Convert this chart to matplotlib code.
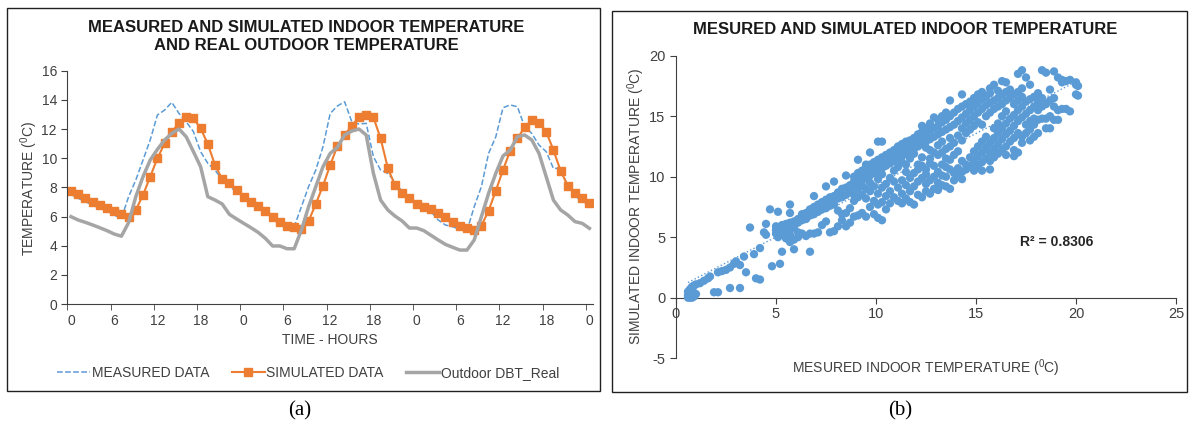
import matplotlib
matplotlib.use("Agg")
import matplotlib.pyplot as plt
import numpy as np
from matplotlib.patches import Rectangle

plt.rcParams['font.family'] = ['Liberation Sans', 'DejaVu Sans']
plt.rcParams['mathtext.fontset'] = 'custom'
plt.rcParams['mathtext.rm'] = 'Liberation Sans'
plt.rcParams['axes.unicode_minus'] = False

# ---- panel (a): hourly values, 3 days ----
hours = list(range(73))
tick_labels = ['0', '6', '12', '18'] * 3 + ['0']

measured = [7.52, 7.25, 7.02, 6.79, 6.56, 6.40, 6.10, 5.87, 7.36, 8.50,
            9.87, 11.25, 12.96, 13.30, 13.83, 13.07, 12.50, 11.82, 10.45, 9.65,
            9.19, 8.50, 8.05, 7.70, 7.36, 7.02, 6.67, 6.33, 5.87, 5.65,
            5.53, 5.30, 6.67, 8.05, 9.19, 10.79, 13.07, 13.58, 13.87, 12.50,
            12.34, 12.39, 10.10, 9.19, 8.96, 8.39, 7.70, 7.25, 6.90, 6.56,
            6.33, 5.76, 5.42, 5.30, 5.12, 5.03, 6.67, 8.05, 10.33, 11.47,
            13.46, 13.65, 13.53, 12.16, 11.70, 10.90, 10.45, 9.30, 9.30, 8.05,
            7.31, 7.13, 6.67]

simulated = [7.77, 7.54, 7.25, 7.02, 6.81, 6.58, 6.35, 6.15, 5.99, 6.45,
             7.47, 8.73, 9.99, 11.02, 11.82, 12.39, 12.85, 12.73, 12.05, 10.97,
             9.53, 8.57, 8.32, 7.82, 7.31, 7.02, 6.74, 6.38, 5.99, 5.60,
             5.37, 5.30, 5.14, 5.69, 6.86, 8.11, 9.53, 10.83, 11.59, 12.23,
             12.80, 12.96, 12.80, 11.36, 9.33, 8.14, 7.59, 7.25, 6.86, 6.63,
             6.51, 6.26, 5.94, 5.60, 5.37, 5.19, 5.07, 5.37, 6.40, 7.77,
             9.19, 10.51, 11.36, 12.11, 12.62, 12.43, 11.82, 10.56, 9.14, 8.11,
             7.63, 7.27, 6.95]

outdoor = [5.99, 5.76, 5.60, 5.42, 5.23, 5.03, 4.80, 4.65, 5.58, 7.36,
           8.73, 9.87, 10.60, 11.25, 11.70, 12.00, 11.47, 10.45, 9.42, 7.36,
           7.13, 6.86, 6.15, 5.83, 5.53, 5.23, 4.91, 4.50, 3.98, 3.98,
           3.79, 3.79, 5.07, 6.67, 8.05, 9.42, 10.33, 10.74, 11.59, 11.86,
           12.00, 11.59, 8.96, 7.13, 6.45, 6.03, 5.69, 5.21, 5.21, 5.03,
           4.71, 4.39, 4.09, 3.89, 3.70, 3.70, 4.39, 5.99, 7.59, 8.96,
           10.15, 10.56, 11.47, 11.59, 11.25, 10.33, 8.73, 7.13, 6.45, 6.10,
           5.65, 5.53, 5.19]

# ---- panel (b): measured (x) column with the simulated values seen above it ----
scatter_rows = [
    (0.6, [0.0, 0.2, 0.5]), (0.7, [0.0, 0.1, 0.4, 0.7]), (0.8, [0.0, 0.3, 0.6, 0.9]),
    (0.9, [0.1, 0.4, 1.0]), (1.0, [0.3, 1.1]), (1.2, [1.2]), (1.4, [1.4]),
    (1.6, [1.6]), (1.7, [1.75]), (1.9, [0.45]), (2.1, [0.45, 2.1]), (2.3, [2.2]),
    (2.5, [2.3]), (2.7, [2.5, 0.8]), (2.9, [2.8]), (3.0, [3.0]), (3.2, [0.8, 2.7]),
    (3.4, [3.4]), (3.5, [2.1]), (3.7, [5.8]), (3.9, [3.6]), (4.0, [1.6]),
    (4.2, [1.5, 4.1]), (4.4, [5.4]), (4.5, [6.1, 5.2]), (4.7, [7.3]), (4.8, [2.6]),
    (5.0, [5.3, 5.6, 5.9]), (5.1, [7.1, 5.0]), (5.2, [2.8, 5.5]),
    (5.3, [3.8, 5.2, 5.8, 6.0]), (5.5, [4.9, 5.4, 5.8, 6.1]),
    (5.7, [7.7, 7.0, 4.6, 5.2, 5.6, 6.2]), (5.9, [4.0, 4.8, 5.8, 6.3]),
    (6.1, [5.0, 5.4, 6.2, 6.5]), (6.3, [5.3, 6.4, 6.7, 6.9]), (6.5, [5.1, 6.5, 6.8, 7.0]),
    (6.7, [3.8, 5.3, 6.8, 7.1, 7.3]), (6.9, [5.3, 6.9, 7.2, 7.5, 8.4]),
    (7.1, [5.4, 7.1, 7.4, 7.7]), (7.3, [6.0, 7.3, 7.6, 7.9]),
    (7.5, [6.3, 7.4, 7.8, 8.1, 9.2]), (7.7, [5.4, 7.6, 8.0, 8.3]),
    (7.9, [5.5, 7.7, 8.1, 8.4, 9.6]), (8.1, [5.9, 7.2, 8.2, 8.5, 8.7]),
    (8.3, [6.4, 6.9, 8.3, 8.6, 8.9, 9.0]), (8.5, [5.9, 7.0, 8.5, 8.8, 9.1, 10.1]),
    (8.7, [6.2, 7.4, 8.7, 9.0, 9.3]), (8.9, [6.7, 8.0, 8.5, 9.2, 9.6, 10.0]),
    (9.1, [6.8, 8.3, 9.0, 9.5, 9.8, 10.3, 11.4]), (9.3, [7.0, 8.5, 9.3, 9.7, 10.1, 10.5]),
    (9.5, [6.7, 8.2, 9.0, 9.9, 10.3, 10.8, 11.0]), (9.7, [7.5, 8.8, 9.5, 10.1, 10.5, 11.0, 12.0]),
    (9.9, [6.9, 8.0, 9.2, 10.3, 10.8, 11.2]),
    (10.1, [6.6, 7.7, 8.6, 9.8, 10.5, 11.0, 11.4, 12.9]),
    (10.3, [6.4, 7.9, 9.1, 10.2, 10.7, 11.2, 11.6, 12.9]),
    (10.5, [7.3, 8.4, 9.4, 10.9, 11.4, 11.8]), (10.7, [7.8, 8.8, 9.9, 11.1, 11.6, 12.0]),
    (10.9, [8.3, 9.6, 10.5, 11.3, 11.8, 12.2]), (11.1, [8.0, 9.1, 10.8, 11.5, 12.0, 12.5]),
    (11.3, [7.8, 8.6, 9.7, 11.2, 11.7, 12.2, 12.7]),
    (11.5, [8.2, 9.3, 10.4, 11.0, 11.9, 12.4, 12.9]),
    (11.7, [7.9, 8.8, 9.9, 11.5, 12.1, 12.6, 13.0]),
    (11.9, [7.7, 9.2, 10.3, 11.9, 12.3, 12.8, 13.2]),
    (12.1, [8.5, 9.6, 10.6, 11.0, 12.5, 13.0, 13.5]),
    (12.3, [8.3, 9.9, 10.9, 11.6, 12.7, 13.3, 13.7, 14.2]),
    (12.5, [8.8, 9.4, 10.2, 10.6, 12.4, 12.9, 13.5, 14.0]),
    (12.7, [8.6, 9.7, 11.1, 11.5, 12.2, 13.1, 13.8, 14.4]),
    (12.9, [9.0, 10.0, 10.9, 12.0, 13.3, 14.0, 14.9]),
    (13.1, [8.9, 9.5, 10.4, 11.8, 12.6, 13.5, 14.2, 14.7]),
    (13.3, [9.3, 10.1, 11.0, 12.0, 12.9, 13.7, 14.5, 15.0]),
    (13.5, [9.2, 10.0, 10.8, 11.5, 12.3, 13.9, 14.7, 15.3]),
    (13.7, [9.0, 10.6, 11.4, 12.5, 13.2, 14.1, 15.0, 16.3]),
    (13.9, [9.7, 10.3, 11.8, 12.8, 14.3, 15.3]),
    (14.1, [10.0, 10.7, 12.1, 13.4, 14.6, 15.6]),
    (14.3, [9.8, 10.4, 11.3, 13.0, 14.0, 14.9, 15.8, 16.8]),
    (14.5, [10.6, 11.0, 13.6, 14.4, 15.2, 16.0]),
    (14.7, [10.9, 11.6, 13.9, 14.7, 15.5, 16.2]),
    (14.9, [10.5, 11.3, 12.1, 14.2, 15.0, 15.8, 16.5]),
    (15.1, [10.9, 11.7, 12.5, 14.5, 15.3, 16.1, 16.8]),
    (15.3, [10.5, 11.2, 12.0, 12.9, 14.3, 15.6, 16.4, 17.0]),
    (15.5, [11.5, 12.4, 13.3, 15.0, 15.9, 16.6]),
    (15.7, [10.6, 11.3, 12.0, 12.8, 15.3, 16.1, 16.9, 17.3]),
    (15.9, [11.6, 12.3, 13.2, 14.0, 15.6, 16.3, 17.6]),
    (16.1, [11.9, 12.7, 13.6, 14.4, 15.8, 16.5, 17.1]),
    (16.3, [12.2, 13.1, 14.0, 15.0, 16.0, 16.8, 17.9]),
    (16.5, [11.8, 12.5, 13.5, 14.4, 15.4, 16.3, 17.0, 17.8]),
    (16.7, [12.9, 13.8, 14.8, 16.5, 17.2]),
    (16.9, [11.7, 12.2, 13.2, 14.2, 15.1, 16.0, 16.8]),
    (17.1, [12.0, 13.6, 14.6, 15.5, 16.3, 17.0, 18.5]),
    (17.3, [12.8, 13.3, 14.9, 15.8, 16.6, 17.3, 18.8]),
    (17.5, [13.6, 14.3, 15.2, 16.2, 18.2]),
    (17.7, [13.0, 13.9, 14.6, 15.5, 16.4, 17.6]),
    (17.9, [13.3, 14.3, 14.8, 15.8, 16.6]),
    (18.1, [13.6, 14.7, 15.5, 16.2, 16.9]),
    (18.3, [14.8, 15.8, 16.5, 18.8]), (18.5, [14.0, 14.8, 16.0, 18.6]),
    (18.7, [14.0, 15.0, 16.3, 17.2]), (18.9, [14.7, 15.8, 16.5, 18.7]),
    (19.1, [14.7, 15.5, 18.2]), (19.3, [15.6, 18.0, 17.8]), (19.5, [15.6, 17.9]),
    (19.7, [15.4, 18.0]), (20.0, [17.6, 17.8, 16.8]), (20.1, [16.7, 17.5]),
]
meas_x = [x for x, ys in scatter_rows for _ in ys]
sim_y = [y for _, ys in scatter_rows for y in ys]
r2_text = 'R² = 0.8306'

W, H = 1192, 429
fig = plt.figure(figsize=(W / 100, H / 100), dpi=100)
txt = '#404040'

def fx(px):
    return px / W

def fy(py):
    return 1 - py / H

# panel frames
fig.patches.append(Rectangle((fx(7), fy(391)), fx(600) - fx(7), fy(8) - fy(391),
                             transform=fig.transFigure, fill=False, ec='#202020', lw=1))
fig.patches.append(Rectangle((fx(612), fy(392)), fx(1187) - fx(612), fy(11) - fy(392),
                             transform=fig.transFigure, fill=False, ec='#202020', lw=1))

# ---------------- (a) ----------------
ax1 = fig.add_axes([fx(67.4), fy(304), fx(593) - fx(67.4), fy(70.7) - fy(304)])
ax1.plot(hours, measured, ls='--', color='#5B9BD5', lw=1.1, label='MEASURED DATA')
ax1.plot(hours, simulated, color='#ED7D31', lw=1.5, marker='s', ms=5.5,
         label='SIMULATED DATA')
ax1.plot(hours, outdoor, color='#A5A5A5', lw=2.5, label='Outdoor DBT_Real')
ax1.set_xlim(-0.5, 72.5)
ax1.set_ylim(0, 16)
ax1.set_yticks(range(0, 17, 2))
ax1.set_xticks(range(0, 73, 6))
ax1.set_xticklabels(tick_labels)
ax1.set_xticks(np.arange(-0.5, 73, 6), minor=True)
ax1.tick_params(axis='x', which='major', length=0, pad=7, labelsize=10, colors=txt)
ax1.tick_params(axis='x', which='minor', length=4, color='#404040')
ax1.tick_params(axis='y', length=4, labelsize=10, colors=txt)
for s in ['top', 'right']:
    ax1.spines[s].set_visible(False)
for s in ['left', 'bottom']:
    ax1.spines[s].set_color('#404040')
fig.text(fx(29), fy(188), r'TEMPERATURE ($^{0}$C)', rotation=90,
         ha='center', va='center', fontsize=10, color=txt)
ax1.set_xlabel('TIME - HOURS', fontsize=10, color=txt, labelpad=4)
fig.text(fx(306), fy(27), 'MEASURED AND SIMULATED INDOOR TEMPERATURE',
         ha='center', va='center', fontsize=12, fontweight='bold', color='#1a1a1a')
fig.text(fx(306), fy(46), 'AND REAL OUTDOOR TEMPERATURE',
         ha='center', va='center', fontsize=12, fontweight='bold', color='#1a1a1a')
fig.legend(*ax1.get_legend_handles_labels(), loc='center', ncol=3,
           bbox_to_anchor=(fx(308), fy(373)), frameon=False, fontsize=10,
           handlelength=2.4, handletextpad=0.1, columnspacing=1.6,
           labelcolor=txt)

# ---------------- (b) ----------------
ax2 = fig.add_axes([fx(676), fy(358.2), fx(1176) - fx(676), fy(55.7) - fy(358.2)])
ax2.scatter(meas_x, sim_y, s=36, color='#5B9BD5', edgecolors='none', zorder=3)
slope, icpt = np.polyfit(meas_x, sim_y, 1)
xt = np.array([min(meas_x), max(meas_x)])
ax2.plot(xt, slope * xt + icpt, ls=':', color='#5B9BD5', lw=1, zorder=2)
ax2.set_xlim(0, 25)
ax2.set_ylim(-5, 20)
ax2.set_xticks(range(0, 26, 5))
ax2.set_yticks(range(-5, 21, 5))
ax2.spines['bottom'].set_position(('data', 0))
for s in ['top', 'right']:
    ax2.spines[s].set_visible(False)
for s in ['left', 'bottom']:
    ax2.spines[s].set_color('#404040')
ax2.tick_params(axis='both', length=4, labelsize=10.5, colors=txt)
ax2.tick_params(axis='x', pad=3)
ax2.text(17.2, 4.6, r2_text, fontsize=10, fontweight='bold', color='#262626',
         va='center')
fig.text(fx(636), fy(206), r'SIMULATED INDOOR TEMPERATURE ($^{0}$C)', rotation=90,
         ha='center', va='center', fontsize=10, color=txt)
fig.text(fx(926), fy(368), r'MESURED INDOOR TEMPERATURE ($^{0}$C)',
         ha='center', va='center', fontsize=10, color=txt)
fig.text(fx(905), fy(30), 'MESURED AND SIMULATED INDOOR TEMPERATURE',
         ha='center', va='center', fontsize=12, fontweight='bold', color='#1a1a1a')

fig.text(fx(300), fy(411), '(a)', ha='center', va='center', fontsize=15,
         family='Liberation Serif', color='black')
fig.text(fx(900), fy(411), '(b)', ha='center', va='center', fontsize=15,
         family='Liberation Serif', color='black')

fig.savefig('out.png', dpi=100)
